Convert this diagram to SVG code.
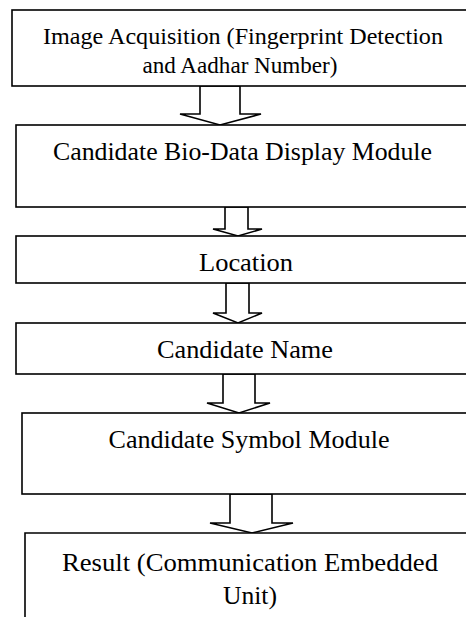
<svg xmlns="http://www.w3.org/2000/svg" width="466" height="617" viewBox="0 0 466 617">
<style>
.box{fill:#fff;stroke:#000;stroke-width:1.6}
.arr{fill:#fff;stroke:#000;stroke-width:1.6;stroke-linejoin:miter}
text{font-family:"Liberation Serif","Times New Roman",serif;font-size:25px;fill:#000;text-anchor:middle}
.t1{font-size:23.5px}
</style>
<rect width="466" height="617" fill="#fff"/>
<g id="connectors">
<polygon class="arr" points="200,86 240,86 240,114 261,114 220,125 180,114 200,114"/>
<polygon class="arr" points="225,207 248,207 248,229 262,229 238,236 213,229 225,229"/>
<polygon class="arr" points="226,283 249,283 249,313 262,313 238,323 213,313 226,313"/>
<polygon class="arr" points="223,374 255,374 255,403 270,403 239,413 207,403 223,403"/>
<polygon class="arr" points="230,494 272,494 272,523 293,523 252,533 210,523 230,523"/>
</g>
<g id="n1">
<rect class="box" x="12" y="10" width="470" height="76"/>
<text class="t1" x="243" y="44" textLength="400" lengthAdjust="spacingAndGlyphs">Image Acquisition (Fingerprint Detection</text>
<text class="t1" x="240" y="73" textLength="195" lengthAdjust="spacingAndGlyphs">and Aadhar Number)</text>
</g>
<g id="n2">
<rect class="box" x="16" y="125" width="470" height="82"/>
<text x="242.5" y="160" textLength="379" lengthAdjust="spacingAndGlyphs">Candidate Bio-Data Display Module</text>
</g>
<g id="n3">
<rect class="box" x="16" y="236" width="470" height="47"/>
<text x="246" y="271" textLength="94" lengthAdjust="spacingAndGlyphs">Location</text>
</g>
<g id="n4">
<rect class="box" x="16" y="323" width="470" height="51"/>
<text x="245" y="358" textLength="176" lengthAdjust="spacingAndGlyphs">Candidate Name</text>
</g>
<g id="n5">
<rect class="box" x="22" y="413" width="470" height="81"/>
<text x="249" y="448" textLength="281" lengthAdjust="spacingAndGlyphs">Candidate Symbol Module</text>
</g>
<g id="n6">
<path class="box" d="M25,630 V533 H480"/>
<text x="250" y="571" textLength="376" lengthAdjust="spacingAndGlyphs">Result (Communication Embedded</text>
<text x="250" y="604" textLength="54" lengthAdjust="spacingAndGlyphs">Unit)</text>
</g>
</svg>
